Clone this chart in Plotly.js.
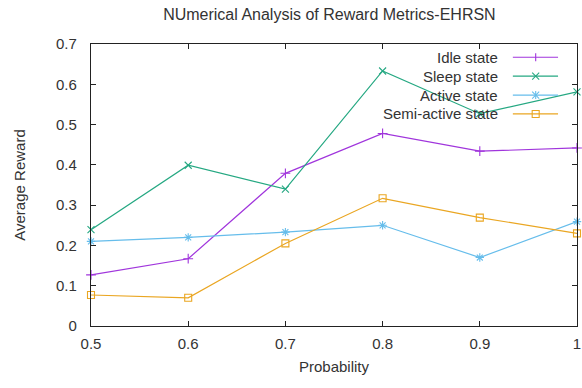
<!DOCTYPE html>
<html>
<head>
<meta charset="utf-8">
<script src="https://cdn.plot.ly/plotly-3.0.1.min.js"></script>
<style>html,body{margin:0;padding:0;background:#fff;}#chart{width:582px;height:388px;}</style>
</head>
<body>
<div id="chart"></div>
<script>
const probability = [0.5, 0.6, 0.7, 0.8, 0.9, 1.0];
const idleState = [0.127, 0.167, 0.379, 0.478, 0.434, 0.442];
const sleepState = [0.239, 0.399, 0.340, 0.633, 0.527, 0.581];
const activeState = [0.210, 0.220, 0.233, 0.250, 0.170, 0.259];
const semiActiveState = [0.077, 0.070, 0.205, 0.317, 0.269, 0.230];
const seriesNames = ['Idle state', 'Sleep state', 'Active state', 'Semi-active state'];
const xTickVals = [0.5, 0.6, 0.7, 0.8, 0.9, 1.0];
const xTickText = ['0.5', '0.6', '0.7', '0.8', '0.9', '1'];
const yTickVals = [0, 0.1, 0.2, 0.3, 0.4, 0.5, 0.6, 0.7];
const yTickText = ['0', '0.1', '0.2', '0.3', '0.4', '0.5', '0.6', '0.7'];

const colors = ['#a035dc', '#25a882', '#66bdeb', '#eaa622'];
const symbols = ['cross-thin-open', 'x-thin-open', 'asterisk-open', 'square-open'];
const allSeries = [idleState, sleepState, activeState, semiActiveState];

const traces = allSeries.map((ys, i) => ({
  x: probability, y: ys, name: seriesNames[i], type: 'scatter', mode: 'lines+markers',
  line: {color: colors[i], width: 1.2},
  marker: {symbol: symbols[i], size: 7, color: colors[i], line: {color: colors[i], width: 1.1}},
  cliponaxis: false, showlegend: false
}));

const fam = 'Liberation Sans, Arial, sans-serif';
// custom legend (text right, sample on the right, like gnuplot)
const legY = [0.953, 0.886, 0.819, 0.752];
const annotations = seriesNames.map((n, i) => ({
  xref: 'paper', yref: 'paper', x: 0.842, y: legY[i], xanchor: 'right', yanchor: 'middle',
  text: n, showarrow: false, font: {family: fam, size: 15, color: '#333'}
}));
const shapes = [];
const mx = 0.915;
seriesNames.forEach((n, i) => {
  const c = colors[i];
  shapes.push({type: 'line', xref: 'paper', yref: 'paper', x0: 0.868, x1: 0.961, y0: legY[i], y1: legY[i], line: {color: c, width: 1.2}});
  const base = {xref: 'paper', yref: 'paper', xsizemode: 'pixel', ysizemode: 'pixel', xanchor: mx, yanchor: legY[i], line: {color: c, width: 1.1}};
  if (i === 0) {
    shapes.push(Object.assign({type: 'line', x0: 0, x1: 0, y0: -4, y1: 4}, base));
  } else if (i === 1) {
    shapes.push(Object.assign({type: 'line', x0: -3.5, x1: 3.5, y0: -3.5, y1: 3.5}, base));
    shapes.push(Object.assign({type: 'line', x0: -3.5, x1: 3.5, y0: 3.5, y1: -3.5}, base));
  } else if (i === 2) {
    shapes.push(Object.assign({type: 'line', x0: -3.5, x1: 3.5, y0: -3.5, y1: 3.5}, base));
    shapes.push(Object.assign({type: 'line', x0: -3.5, x1: 3.5, y0: 3.5, y1: -3.5}, base));
    shapes.push(Object.assign({type: 'line', x0: 0, x1: 0, y0: -4, y1: 4}, base));
  } else {
    shapes.push(Object.assign({type: 'rect', x0: -3.5, x1: 3.5, y0: -3.5, y1: 3.5}, base));
  }
});

const font = {family: fam, size: 15, color: '#333'};
const layout = {
  width: 582, height: 388,
  margin: {l: 91, r: 5, t: 44, b: 62},
  paper_bgcolor: '#fff', plot_bgcolor: '#fff',
  font: font,
  title: {text: 'NUmerical Analysis of Reward Metrics-EHRSN', x: 0.566, xanchor: 'center', y: 0.962, yanchor: 'middle',
          font: {family: fam, size: 16, color: '#333'}},
  xaxis: {
    range: [0.5, 1.0], tickvals: xTickVals, ticktext: xTickText,
    ticks: 'inside', ticklen: 5, tickcolor: '#222', mirror: 'allticks', ticklabelstandoff: 4,
    showline: true, linecolor: '#222', linewidth: 1.2, showgrid: false, zeroline: false,
    title: {text: 'Probability', standoff: 10, font: font}, tickfont: font
  },
  yaxis: {
    range: [0, 0.7], tickvals: yTickVals, ticktext: yTickText,
    ticks: 'inside', ticklen: 5, tickcolor: '#222', mirror: 'allticks', ticklabelstandoff: 10,
    showline: true, linecolor: '#222', linewidth: 1.2, showgrid: false, zeroline: false,
    title: {text: 'Average Reward', standoff: 26, font: font}, tickfont: font
  },
  annotations: annotations, shapes: shapes,
  showlegend: false
};
Plotly.newPlot('chart', traces, layout, {displayModeBar: false, staticPlot: true});
</script>
</body>
</html>
